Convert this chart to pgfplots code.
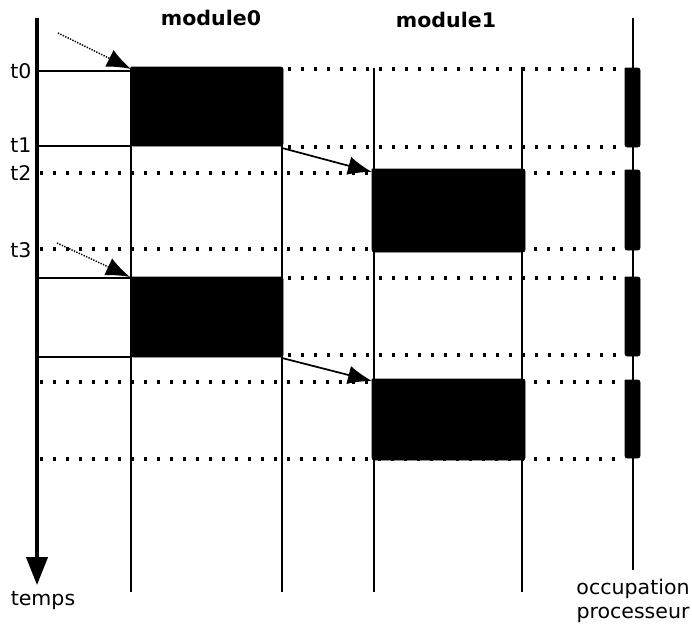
\documentclass[border=0pt]{standalone}
\usepackage{fontspec}
\setmainfont{DejaVu Sans}
\usepackage{graphicx}
\usepackage{pgfplots}
\pgfplotsset{compat=1.18}
\usetikzlibrary{arrows.meta}
\newcommand{\T}[1]{\scalebox{1.1}[1.08]{\fontsize{14pt}{17pt}\selectfont #1}}
\begin{document}
\begin{tikzpicture}
\begin{axis}[
  width=519pt, height=471pt, scale only axis,
  xmin=0, xmax=692, ymin=0, ymax=628, y dir=reverse,
  hide axis, clip=false,
  dotline/.style={black, line width=2.5pt, dash pattern=on 2.5pt off 7.25pt},
]
% frame for bounding box
\addplot[draw=none] coordinates {(0,0) (692,628)};
% dotted lines
\addplot[dotline] coordinates {(288,69) (625,69)};
\addplot[dotline] coordinates {(288,147) (625,147)};
\addplot[dotline] coordinates {(40,173) (625,173)};
\addplot[dotline] coordinates {(40,249) (625,249)};
\addplot[dotline] coordinates {(288,278) (625,278)};
\addplot[dotline] coordinates {(288,355) (625,355)};
\addplot[dotline] coordinates {(40,382) (625,382)};
\addplot[dotline] coordinates {(40,459) (625,459)};
% vertical lines
\addplot[black, line width=1.3pt] coordinates {(131,68) (131,592)};
\addplot[black, line width=1.3pt] coordinates {(282,68) (282,592)};
\addplot[black, line width=1.3pt] coordinates {(374,68) (374,592)};
\addplot[black, line width=1.3pt] coordinates {(522,67) (522,592)};
\addplot[black, line width=1.2pt] coordinates {(633,18) (633,570)};
% horizontal solid lines
\addplot[black, line width=1pt] coordinates {(37,71) (131,71)};
\addplot[black, line width=1pt] coordinates {(37,146) (131,146)};
\addplot[black, line width=1pt] coordinates {(37,278) (131,278)};
\addplot[black, line width=1pt] coordinates {(37,357) (131,357)};
% module boxes
\addplot[black, fill=black, rounded corners=1.5pt] coordinates {(131,67) (283,67) (283,146) (131,146) (131,67)};
\addplot[black, fill=black, rounded corners=1.5pt] coordinates {(131,277) (283,277) (283,357) (131,357) (131,277)};
\addplot[black, fill=black, rounded corners=1.5pt] coordinates {(372,169) (525,169) (525,252) (372,252) (372,169)};
\addplot[black, fill=black, rounded corners=1.5pt] coordinates {(372,379) (525,379) (525,460) (372,460) (372,379)};
% processor boxes
\addplot[black, fill=black, rounded corners=1.5pt] coordinates {(625,68) (640,68) (640,147) (625,147) (625,68)};
\addplot[black, fill=black, rounded corners=1.5pt] coordinates {(625,170) (640,170) (640,250) (625,250) (625,170)};
\addplot[black, fill=black, rounded corners=1.5pt] coordinates {(625,277) (640,277) (640,356) (625,356) (625,277)};
\addplot[black, fill=black, rounded corners=1.5pt] coordinates {(625,380) (640,380) (640,458) (625,458) (625,380)};
% time axis
\addplot[black, line width=2.4pt, -{Triangle[length=21pt, width=16pt]}] coordinates {(37,18) (37,585)};
% arrows
\addplot[black, line width=1.1pt, dash pattern=on 1pt off 1pt, -{Latex[length=18pt, width=14pt]}] coordinates {(58,33) (131,69)};
\addplot[black, line width=1.1pt, dash pattern=on 1pt off 1pt, -{Latex[length=18pt, width=14pt]}] coordinates {(57,243) (130,277)};
\addplot[black, line width=1.3pt, -{Latex[length=18pt, width=14pt]}] coordinates {(282,148) (372,172)};
\addplot[black, line width=1.3pt, -{Latex[length=18pt, width=14pt]}] coordinates {(282,358) (372,381)};
% labels
\node[anchor=base, inner sep=0pt] at (21,78) {\T{t0}};
\node[anchor=base, inner sep=0pt] at (21,152) {\T{t1}};
\node[anchor=base, inner sep=0pt] at (21,180) {\T{t2}};
\node[anchor=base, inner sep=0pt] at (21,257) {\T{t3}};
\node[anchor=base, inner sep=0pt] at (211,26) {\T{\bfseries module0}};
\node[anchor=base, inner sep=0pt] at (446,27) {\T{\bfseries module1}};
\node[anchor=base, inner sep=0pt] at (43,605) {\T{temps}};
\node[anchor=base, inner sep=0pt] at (633,594) {\T{occupation}};
\node[anchor=base, inner sep=0pt] at (633,618) {\T{processeur}};
\end{axis}
\end{tikzpicture}
\end{document}
